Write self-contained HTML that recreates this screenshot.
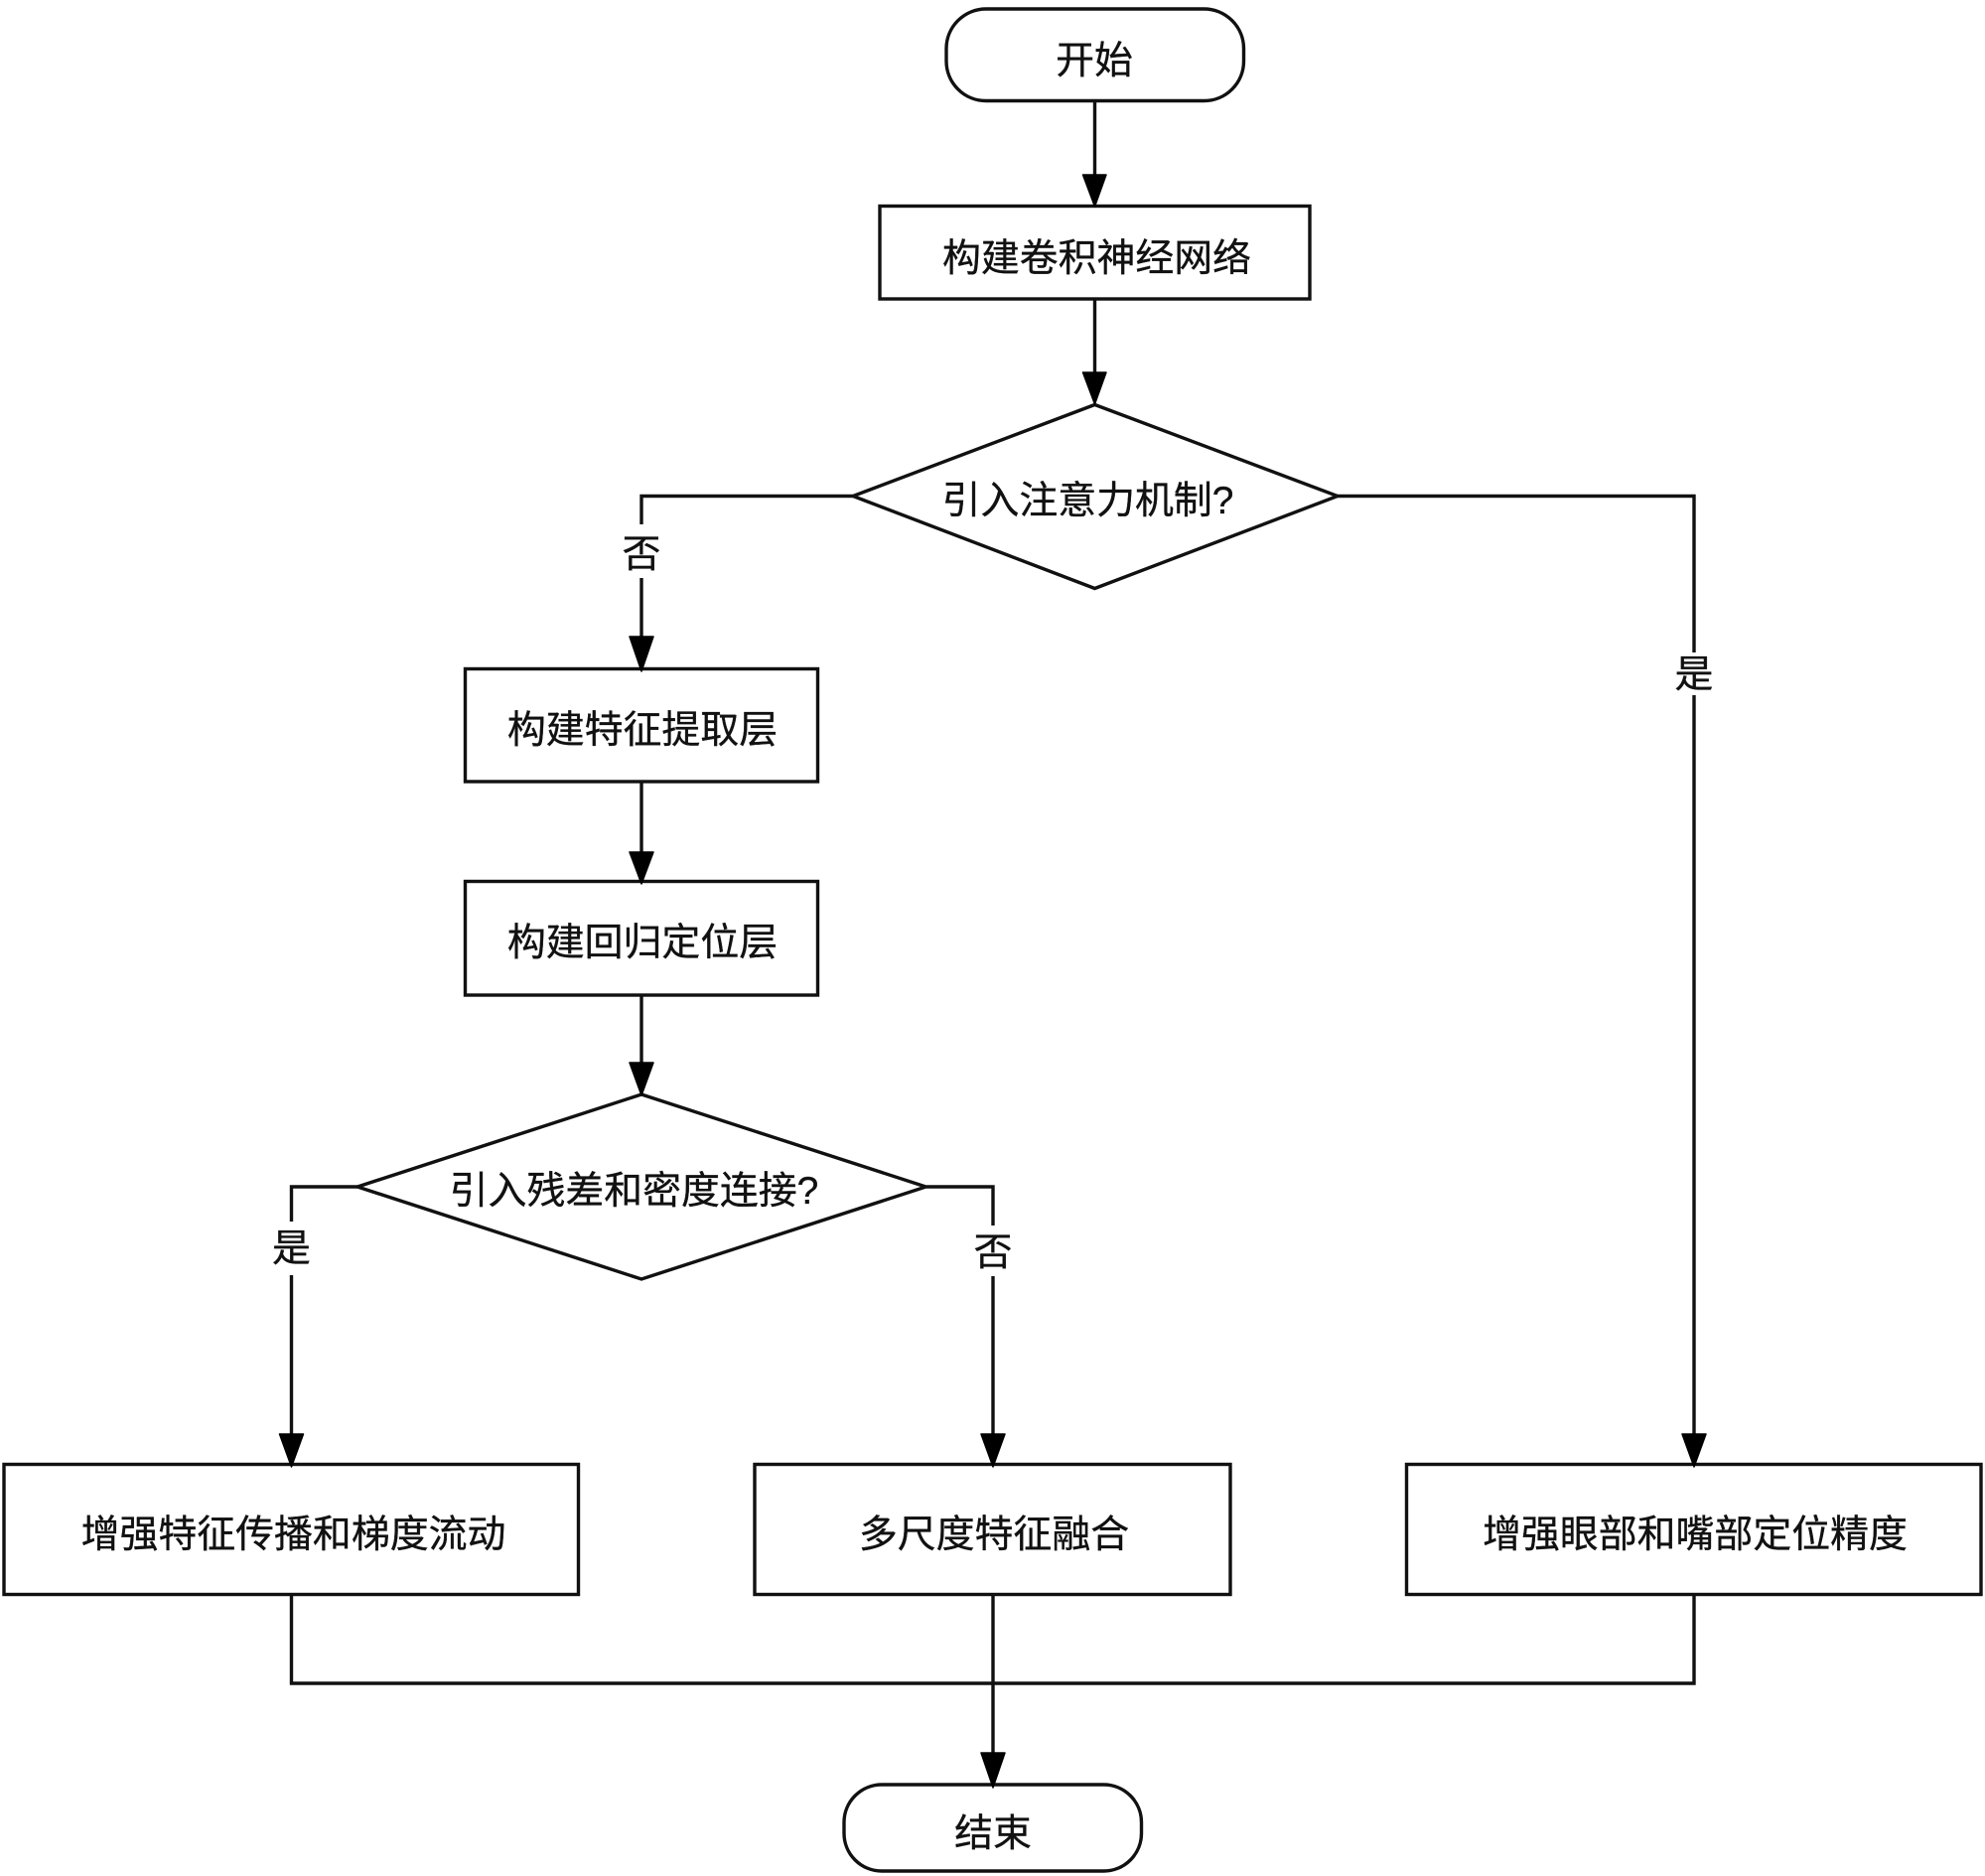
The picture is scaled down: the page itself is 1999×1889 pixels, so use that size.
<!DOCTYPE html>
<html lang="zh">
<head>
<meta charset="utf-8">
<style>
html,body{margin:0;padding:0;background:#fff;width:1999px;height:1889px;overflow:hidden}
svg{display:block}
text{font-family:"Liberation Sans","Noto Sans CJK SC",sans-serif;font-size:38.9px;fill:#111;stroke:#111;stroke-width:.35;text-anchor:middle}
.s{fill:#fff;stroke:#111;stroke-width:3.4}
.l{fill:none;stroke:#111;stroke-width:3.4}
.a{fill:#000;stroke:#000;stroke-width:1.5;stroke-linejoin:round}
</style>
</head>
<body>
<svg width="1999" height="1889" viewBox="0 0 1999 1889" xmlns="http://www.w3.org/2000/svg">
<rect width="1999" height="1889" fill="#fff"/>

<!-- connectors -->
<path class="l" d="M1102.5 102V178"/>
<path class="l" d="M1102.5 301V377"/>
<path class="l" d="M859 499.5H646V643"/>
<path class="l" d="M1347 499.5H1706V1446"/>
<path class="l" d="M646 787V860"/>
<path class="l" d="M646 1002V1072"/>
<path class="l" d="M360 1195H293.5V1446"/>
<path class="l" d="M933 1195H1000V1446"/>
<path class="l" d="M293.5 1605V1695H1706V1605"/>
<path class="l" d="M1000 1605V1767"/>

<!-- shapes -->
<rect class="s" x="953" y="9" width="299.5" height="92.5" rx="40" ry="40"/>
<rect class="s" x="886" y="207.5" width="433" height="93.5"/>
<polygon class="s" points="1102.5,407.5 1347,499.5 1102.5,592.5 859,499.5"/>
<rect class="s" x="468.5" y="673.5" width="355" height="113.5"/>
<rect class="s" x="468.5" y="887.5" width="355" height="114.5"/>
<polygon class="s" points="646,1102 932.5,1195 646,1288 360,1195"/>
<rect class="s" x="4" y="1474.5" width="578.5" height="131"/>
<rect class="s" x="760" y="1474.5" width="479" height="131"/>
<rect class="s" x="1416.5" y="1474.5" width="578.5" height="131"/>
<rect class="s" x="850" y="1797" width="299.5" height="87" rx="38" ry="38"/>

<!-- arrowheads -->
<polygon class="a" points="1090.5,176 1114,176 1102.5,208"/>
<polygon class="a" points="1090.5,375 1114,375 1102.5,407"/>
<polygon class="a" points="634,641 658,641 646,676"/>
<polygon class="a" points="634,858 658,858 646,890"/>
<polygon class="a" points="634,1070 658,1070 646,1103"/>
<polygon class="a" points="281.5,1444 305.5,1444 293.5,1477"/>
<polygon class="a" points="988,1444 1012,1444 1000,1477"/>
<polygon class="a" points="1694,1444 1718,1444 1706,1477"/>
<polygon class="a" points="988,1765 1012,1765 1000,1800"/>

<!-- edge label backgrounds -->
<rect x="620" y="528" width="52" height="54" fill="#fff"/>
<rect x="1680" y="657" width="52" height="43" fill="#fff"/>
<rect x="268" y="1230" width="52" height="54" fill="#fff"/>
<rect x="974" y="1234" width="52" height="51" fill="#fff"/>

<!-- labels -->
<text x="1102" y="74">开始</text>
<text x="1104.5" y="273">构建卷积神经网络</text>
<text x="1095.5" y="517">引入注意力机制?</text>
<text x="646" y="571">否</text>
<text x="1706" y="692">是</text>
<text x="647" y="748">构建特征提取层</text>
<text x="647" y="962">构建回归定位层</text>
<text x="638.5" y="1212">引入残差和密度连接?</text>
<text x="293.5" y="1270">是</text>
<text x="1000" y="1274">否</text>
<text x="295.5" y="1558">增强特征传播和梯度流动</text>
<text x="1001" y="1558">多尺度特征融合</text>
<text x="1707" y="1558">增强眼部和嘴部定位精度</text>
<text x="1000" y="1859">结束</text>
</svg>
</body>
</html>
